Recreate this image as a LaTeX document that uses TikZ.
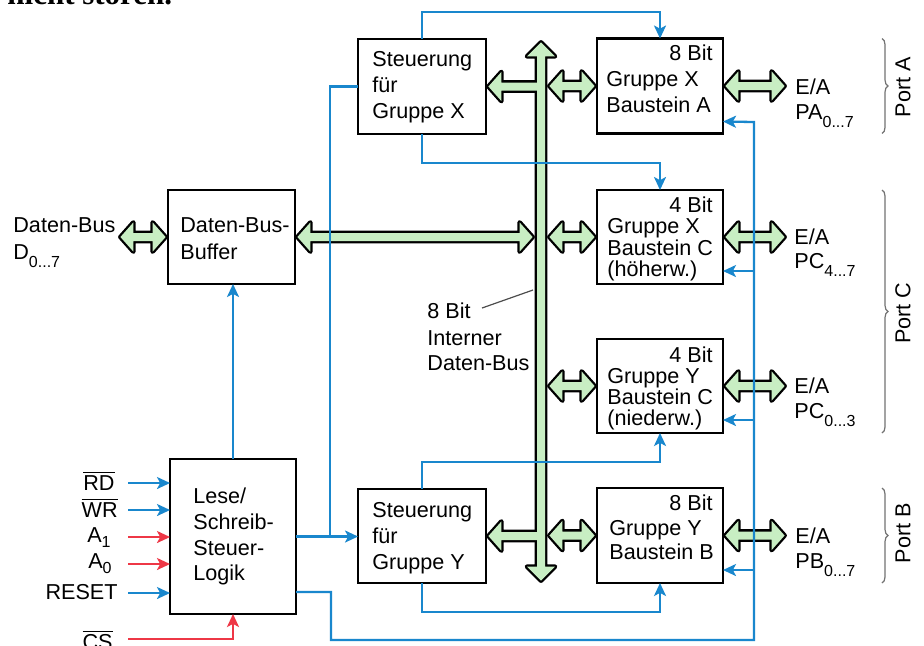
\documentclass[tikz,border=0pt]{standalone}
\usepackage{fontspec}
\setmainfont{Liberation Sans}
\newfontfamily\serifx{Liberation Serif}
\usetikzlibrary{arrows.meta,calc,decorations.pathreplacing}
\definecolor{sigblue}{RGB}{25,135,205}
\definecolor{sigred}{RGB}{238,55,70}
\definecolor{busgreen}{RGB}{200,238,195}
\newcommand\sbs[1]{\raisebox{-4pt}{\fontsize{8}{9}\selectfont #1}}
\newcommand\sba[1]{\raisebox{-2.5pt}{\fontsize{8}{9}\selectfont #1}}
\newcommand\ovl[1]{$\overline{\mbox{#1}}$}
% horizontal double arrow, y from first point
\newcommand\fatdbl[3]{\path[#1] let \p1=#2, \p2=#3 in
 (\x1+1.2pt,\y1) -- (\x1+7.7pt,\y1+7.3pt) -- (\x1+7.7pt,\y1+2pt) -- (\x2-7.7pt,\y1+2pt) -- (\x2-7.7pt,\y1+7.3pt) -- (\x2-1.2pt,\y1)
 -- (\x2-7.7pt,\y1-7.3pt) -- (\x2-7.7pt,\y1-2pt) -- (\x1+7.7pt,\y1-2pt) -- (\x1+7.7pt,\y1-7.3pt) -- cycle;}
% single arrow from bus centre (first) to box (second), tip at second
\newcommand\fatsgl[3]{\path[#1] let \p1=#2, \p2=#3 in
 (\x2+1.2pt,\y2) -- (\x2+7.7pt,\y2+7.3pt) -- (\x2+7.7pt,\y2+2pt) -- (\x1,\y2+2pt) -- (\x1,\y2-2pt) -- (\x2+7.7pt,\y2-2pt) -- (\x2+7.7pt,\y2-7.3pt) -- cycle;}
% vertical bus
\newcommand\fatbus[3]{\path[#1] let \p1=#2, \p2=#3 in
 (\x1,\y1-1.2pt) -- (\x1+7pt,\y1-8.2pt) -- (\x1+2pt,\y1-8.2pt) -- (\x1+2pt,\y2+8.2pt) -- (\x1+7pt,\y2+8.2pt) -- (\x1,\y2+1.2pt)
 -- (\x1-7pt,\y2+8.2pt) -- (\x1-2pt,\y2+8.2pt) -- (\x1-2pt,\y1-8.2pt) -- (\x1-7pt,\y1-8.2pt) -- cycle;}
\newcommand\greenparts[1]{%
 \fatbus{#1}{(busT)}{(busB)}%
 \fatsgl{#1}{(busC |- stx.east)}{(stx.east)}%
 \fatsgl{#1}{(busC |- sty.east)}{(sty.east)}%
 \fatdbl{#1}{(busR |- bxA.west)}{(bxA.west)}%
 \fatdbl{#1}{(busR |- bxC.west)}{(bxC.west)}%
 \fatdbl{#1}{(busR |- bxYC.west)}{(bxYC.west)}%
 \fatdbl{#1}{(busR |- bxB.west)}{(bxB.west)}%
 \fatdbl{#1}{(buf.east)}{(busL |- buf.east)}%
 \fatdbl{#1}{(dbL |- buf.west)}{(buf.west)}%
 \fatdbl{#1}{(bxA.east)}{(ioR |- bxA.east)}%
 \fatdbl{#1}{(bxC.east)}{(ioR |- bxC.east)}%
 \fatdbl{#1}{(bxYC.east)}{(ioR |- bxYC.east)}%
 \fatdbl{#1}{(bxB.east)}{(ioR |- bxB.east)}%
}
\begin{document}
\begin{tikzpicture}[x=0.5pt,y=-0.5pt,
  box/.style={draw,line width=1.3pt,inner sep=0,outer sep=0},
  rbox/.style={box,minimum width=63pt,minimum height=47.5pt},
  lbl/.style={inner sep=0,anchor=base west,font=\fontsize{10.8}{13}\selectfont},
  lble/.style={lbl,anchor=base east},
  sig/.style={draw=sigblue,line width=1.15pt},
  sigr/.style={draw=sigred,line width=1.15pt},
  sarrow/.style={-{Stealth[length=6.5pt,width=6pt,inset=1.6pt]}},
  outl/.style={draw=black,line width=2.3pt,line join=round},
  inl/.style={fill=busgreen},
  brc/.style={draw=black!55,line width=0.6pt,decorate,decoration={brace,amplitude=3pt}}]
\useasboundingbox (0,0) rectangle (924,645);
\clip (0,0) rectangle (924,645);
\fill[white] (0,0) rectangle (924,645);

% top text fragment
\node[anchor=base west,inner sep=0,font=\serifx\bfseries\fontsize{15.5}{18}\selectfont] (ttop) at (7,4) {nicht stören.};

% boxes
\node[box,minimum width=64pt,minimum height=47.5pt] (stx) at (422,86.5) {};
\node[box,minimum width=64pt,minimum height=47pt] (sty) at (422,536) {};
\node[rbox] (bxA) at (660,86) {};
\node[rbox,minimum height=47pt] (bxC) at (660,237) {};
\node[rbox,minimum height=47pt] (bxYC) at (660,386) {};
\node[rbox] (bxB) at (660,535.5) {};
\node[box,minimum width=63.5pt,minimum height=47pt] (buf) at (231.5,237) {};
\node[box,minimum width=63pt,minimum height=77.5pt] (lese) at (233,536.5) {};

% bus coordinates
\coordinate (busT) at (541,40);
\coordinate (busB) at (541,583);
\coordinate (busC) at (541,0);
\coordinate (busL) at (535,0);
\coordinate (busR) at (547,0);
\coordinate (ioR) at (787,0);
\coordinate (dbL) at (118,0);

% green fat arrows: outline pass then fill pass
\greenparts{outl}
\greenparts{inl}

% box texts
\node[lbl] (s1) at (372,66) {Steuerung};
\node[lbl] (s2) at (372,92) {für};
\node[lbl] (s3) at (372,118) {Gruppe X};
\node[lbl] (y1) at (372,517) {Steuerung};
\node[lbl] (y2) at (372,543) {für};
\node[lbl] (y3) at (372,569) {Gruppe Y};

\node[lble] (a0) at (713,60) {8 Bit};
\node[lbl] (a1) at (606,86) {Gruppe X};
\node[lbl] (a2) at (606,112) {Baustein A};

\node[lble] (c0) at (713,212) {4 Bit};
\node[lbl] (c1) at (607,233) {Gruppe X};
\node[lbl] (c2) at (607,255) {Baustein C};
\node[lbl] (c3) at (607,276) {(höherw.)};

\node[lble] (d0) at (713,362) {4 Bit};
\node[lbl] (d1) at (607,383) {Gruppe Y};
\node[lbl] (d2) at (607,404) {Baustein C};
\node[lbl] (d3) at (607,425) {(niederw.)};

\node[lble] (b0) at (713,510) {8 Bit};
\node[lbl] (b1) at (609,535) {Gruppe Y};
\node[lbl] (b2) at (609,559) {Baustein B};

\node[lbl] (f1) at (180,232) {Daten-Bus-};
\node[lbl] (f2) at (180,259) {Buffer};
\node[lbl] (e1) at (13,232) {Daten-Bus};
\node[lbl] (e2) at (13,259) {D\sbs{0...7}};

\node[lbl] (l1) at (193,503) {Lese/};
\node[lbl] (l2t) at (193,529) {Schreib-};
\node[lbl] (l3) at (193,555) {Steuer-};
\node[lbl] (l4) at (193,580) {Logik};

% I/O labels
\node[lbl] (ioA1) at (795,94) {E/A};
\node[lbl] (ioA2) at (795,119) {PA\sbs{0...7}};
\node[lbl] (ioC1) at (794,244) {E/A};
\node[lbl] (ioC2) at (794,268) {PC\sbs{4...7}};
\node[lbl] (ioD1) at (794,393) {E/A};
\node[lbl] (ioD2) at (794,418) {PC\sbs{0...3}};
\node[lbl] (ioB1) at (795,543) {E/A};
\node[lbl] (ioB2) at (795,568) {PB\sbs{0...7}};

% braces and port labels
\coordinate (brx) at (882,0);
\draw[brc] (brx |- bxA.north) -- (brx |- bxA.south);
\draw[brc] (brx |- bxC.north) -- (brx |- bxYC.south);
\draw[brc] (brx |- bxB.north) -- (brx |- bxB.south);
\node[lbl,anchor=center,rotate=90] (pA) at (903,87) {Port A};
\node[lbl,anchor=center,rotate=90] (pC) at (903,313) {Port C};
\node[lbl,anchor=center,rotate=90] (pB) at (903,533) {Port B};

% internal bus label
\node[lbl] (ib1) at (427,318) {8 Bit};
\node[lbl] (ib2) at (427,345) {Interner};
\node[lbl] (ib3) at (427,370) {Daten-Bus};
\coordinate (ld1) at (482,308);
\coordinate (ld2) at (533,290);
\draw[line width=0.6pt,black!70] (ld1) -- (ld2);

% input labels
\node[lble] (tRD) at (115,490) {\ovl{RD}};
\node[lble] (tWR) at (118,517) {\ovl{WR}};
\node[lble] (tA1) at (111,542) {A\sba{1}};
\node[lble] (tA0) at (112,568) {A\sba{0}};
\node[lble] (tRS) at (118,599) {RESET};
\node[lble] (tCS) at (113,649) {\ovl{CS}};

% blue control lines
\draw[sig,sarrow] (stx.north) -- ++(0,-27) -| (bxA.north);
\draw[sig,sarrow] (stx.south) -- ++(0,29) -| (bxC.north);
\draw[sig,sarrow] (sty.north) -- ++(0,-27) -| (bxYC.south);
\draw[sig,sarrow] (sty.south) -- ++(0,29) -| (bxB.south);
\coordinate (xj) at (330,0);
\draw[sig,sarrow] (lese.east) -- (lese.east -| sty.west);
\draw[sig] (lese.east -| xj) |- (stx.west);
\draw[sig,sarrow] (lese.north) -- (lese.north |- buf.south);
\coordinate (lo) at ($(lese.south east)+(0,-22)$);
\coordinate (bl) at (331,640);
\coordinate (rv) at (754,122);
\coordinate (aA) at ($(bxA.south east)+(0,-12)$);
\coordinate (aC) at ($(bxC.south east)+(0,-13)$);
\coordinate (aYC) at ($(bxYC.south east)+(0,-13)$);
\coordinate (aB) at ($(bxB.south east)+(0,-13)$);
\draw[sig,sarrow] (lo) -| (bl) -| (rv) -- (aA);
\draw[sig,sarrow] (rv |- aC) -- (aC);
\draw[sig,sarrow] (rv |- aYC) -- (aYC);
\draw[sig,sarrow] (rv |- aB) -- (aB);

% inputs
\coordinate (iRD) at (128,483);
\coordinate (iWR) at (128,510);
\coordinate (iA1) at (128,537);
\coordinate (iA0) at (128,564);
\coordinate (iRS) at (128,593);
\coordinate (iCS) at (128,639);
\draw[sig,sarrow] (iRD) -- (iRD -| lese.west);
\draw[sig,sarrow] (iWR) -- (iWR -| lese.west);
\draw[sigr,sarrow] (iA1) -- (iA1 -| lese.west);
\draw[sigr,sarrow] (iA0) -- (iA0 -| lese.west);
\draw[sig,sarrow] (iRS) -- (iRS -| lese.west);
\draw[sigr,sarrow] (iCS) -| (lese.south);
\end{tikzpicture}
\end{document}
